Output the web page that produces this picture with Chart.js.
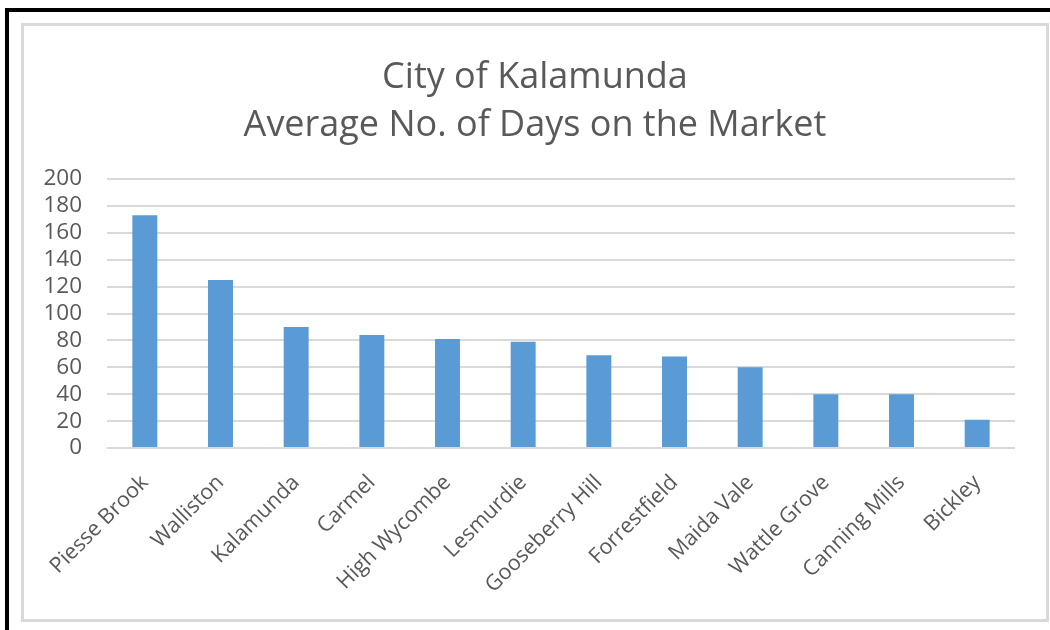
<!DOCTYPE html>
<html>
<head>
<meta charset="utf-8">
<script src="https://cdn.jsdelivr.net/npm/chart.js@4"></script>
<style>
    html, body { margin: 0; padding: 0; background: #fff; }
    body { width: 1050px; height: 630px; position: relative; overflow: hidden; }
    .frame {
        position: absolute; left: 5px; top: 8px; width: 1100px; height: 700px;
        border-left: 4px solid #000; border-top: 4px solid #000;
    }
    .box {
        position: absolute; left: 21px; top: 23px; width: 1022px; height: 593px;
        border: 3px solid #d9d9d9; background: #fff;
    }
    canvas { display: block; }
</style>
</head>
<body>
<div class="frame"></div>
<div class="box">
    <canvas id="chart" width="1022" height="593"></canvas>
</div>
<script>
const suburbs = ['Piesse Brook', 'Walliston', 'Kalamunda', 'Carmel', 'High Wycombe', 'Lesmurdie',
    'Gooseberry Hill', 'Forrestfield', 'Maida Vale', 'Wattle Grove', 'Canning Mills', 'Bickley']
const avgDays = [173, 125, 90, 84, 81, 79, 69, 68, 60, 40, 40, 21]
const titleLines = ['City of Kalamunda', 'Average No. of Days on the Market']

const textColor = '#595959'
const gridColor = '#d9d9d9'

const ctx = document.getElementById('chart').getContext('2d')

new Chart(ctx, {
    type: 'bar',
    data: {
        labels: suburbs,
        datasets: [{
            label: 'Average days on market',
            data: avgDays,
            backgroundColor: '#5b9bd5',
            barPercentage: 0.33,
            categoryPercentage: 1
        }]
    },
    options: {
        responsive: false,
        animation: false,
        layout: { padding: 0 },
        plugins: {
            legend: { display: false },
            tooltip: { enabled: false },
            title: {
                display: true,
                text: titleLines,
                color: textColor,
                font: { family: 'Open Sans', size: 36, weight: 'normal', lineHeight: 1.32 },
                padding: { top: 28, bottom: 30 }
            }
        },
        scales: {
            x: {
                grid: { display: false },
                border: { display: false },
                ticks: {
                    color: textColor,
                    font: { family: 'Open Sans', size: 21.5 },
                    minRotation: 45,
                    maxRotation: 45,
                    autoSkip: false,
                    padding: 14
                },
                afterFit: (scale) => { scale.height = 171 }
            },
            y: {
                min: 0,
                max: 200,
                grid: { color: gridColor, lineWidth: 2, drawTicks: false },
                border: { display: false },
                ticks: {
                    stepSize: 20,
                    autoSkip: false,
                    color: textColor,
                    font: { family: 'Open Sans', size: 22.5 },
                    padding: 25
                },
                afterFit: (scale) => { scale.width = 83 }
            },
            // empty axis on the right, only there to leave the right-hand margin
            // so the title stays centred on the whole box
            spacer: {
                position: 'right',
                min: 0,
                max: 200,
                grid: { display: false },
                border: { display: false },
                ticks: { display: false },
                afterFit: (scale) => { scale.width = 31 }
            }
        }
    }
})
</script>
</body>
</html>
